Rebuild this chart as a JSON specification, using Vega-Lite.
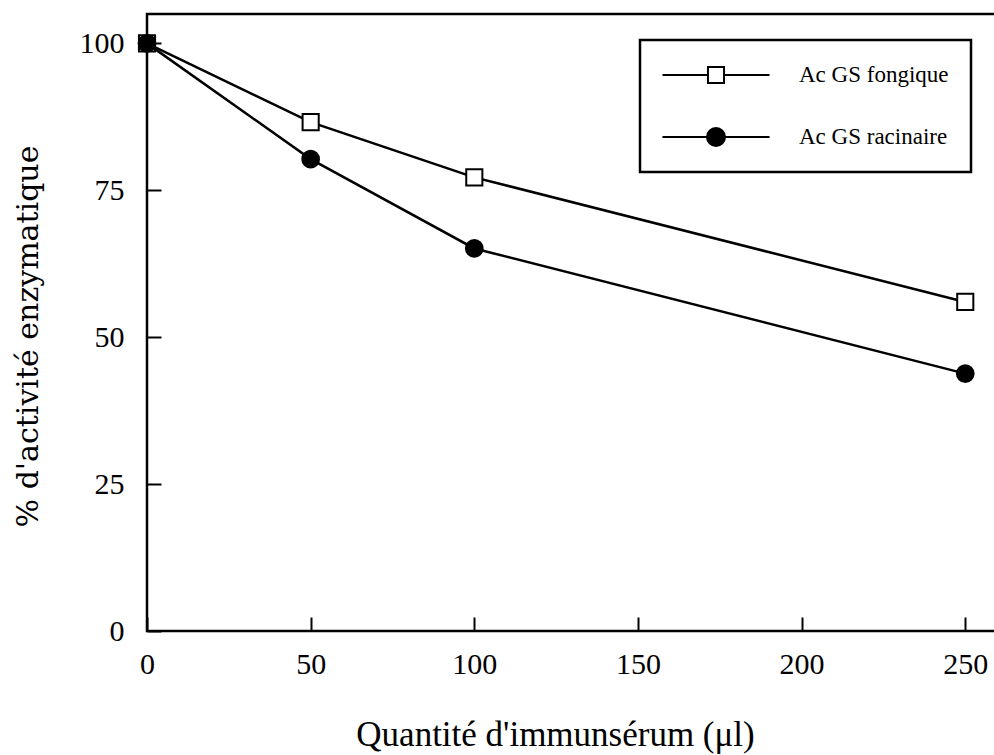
{
  "$schema": "https://vega.github.io/schema/vega-lite/v6.json",
  "autosize": "none",
  "width": 851,
  "height": 617,
  "padding": {"left": 147, "top": 14, "right": 0, "bottom": 124},
  "background": "white",
  "config": {
    "view": {"stroke": "black", "strokeWidth": 2.5},
    "font": "Liberation Serif",
    "axis": {
      "grid": false,
      "domain": false,
      "ticks": true,
      "tickColor": "black",
      "tickWidth": 2,
      "labelColor": "black",
      "labelFont": "Liberation Serif",
      "labelFontSize": 30,
      "labelFlush": false,
      "titleFont": "Liberation Serif",
      "titleFontWeight": "normal",
      "titleColor": "black"
    },
    "legend": {
      "title": null,
      "orient": "none",
      "legendX": 493,
      "legendY": 26,
      "padding": 22,
      "strokeColor": "black",
      "strokeWidth": 2.5,
      "symbolSize": 576,
      "symbolOffset": 41,
      "symbolStrokeWidth": 2,
      "symbolStrokeColor": "black",
      "symbolOpacity": 1,
      "labelFont": "Liberation Serif",
      "labelFontSize": 23,
      "labelColor": "black",
      "labelOffset": 70,
      "rowPadding": 36
    }
  },
  "data": {
    "values": [
      {"serie": "Ac GS fongique", "q": 0, "pct": 100},
      {"serie": "Ac GS fongique", "q": 50, "pct": 86.6},
      {"serie": "Ac GS fongique", "q": 100, "pct": 77.2},
      {"serie": "Ac GS fongique", "q": 250, "pct": 56.0},
      {"serie": "Ac GS racinaire", "q": 0, "pct": 100},
      {"serie": "Ac GS racinaire", "q": 50, "pct": 80.3},
      {"serie": "Ac GS racinaire", "q": 100, "pct": 65.1},
      {"serie": "Ac GS racinaire", "q": 250, "pct": 43.8}
    ]
  },
  "encoding": {
    "x": {
      "field": "q",
      "type": "quantitative",
      "scale": {"domain": [0, 260], "nice": false, "zero": false},
      "axis": {
        "values": [0, 50, 100, 150, 200, 250],
        "tickSize": -14,
        "labelPadding": 32,
        "title": "Quantité d'immunsérum (μl)",
        "titleFontSize": 35,
        "titlePadding": 38,
        "titleX": 408
      }
    },
    "y": {
      "field": "pct",
      "type": "quantitative",
      "scale": {"domain": [0, 105], "nice": false},
      "axis": {
        "values": [0, 25, 50, 75, 100],
        "tickSize": -14,
        "labelPadding": 37,
        "title": "% d'activité enzymatique",
        "titleFont": "DejaVu Serif",
        "titleFontSize": 30,
        "titlePadding": 36,
        "titleY": 322
      }
    }
  },
  "layer": [
    {
      "mark": {"type": "line", "color": "black", "strokeWidth": 2.5},
      "encoding": {"detail": {"field": "serie", "type": "nominal"}}
    },
    {
      "transform": [{"filter": "datum.serie === 'Ac GS fongique'"}],
      "mark": {"type": "point", "shape": "square", "filled": true, "fill": "white", "stroke": "black", "strokeWidth": 2, "opacity": 1, "size": 260},
      "encoding": {}
    },
    {
      "transform": [{"filter": "datum.serie === 'Ac GS racinaire'"}],
      "mark": {"type": "point", "shape": "circle", "filled": true, "fill": "black", "stroke": "black", "strokeWidth": 2, "opacity": 1, "size": 280},
      "encoding": {}
    },
    {
      "mark": {"type": "point", "filled": true, "strokeWidth": 2, "opacity": 0},
      "encoding": {
        "shape": {
          "field": "serie",
          "type": "nominal",
          "scale": {
            "domain": ["Ac GS fongique", "Ac GS racinaire"],
            "range": [
              "M-4.46,0H-0.67M0.67,0H4.46M-0.67,-0.67H0.67V0.67H-0.67Z",
              "M-4.46,0H4.46M-0.75,0A0.75,0.75,0,1,0,0.75,0A0.75,0.75,0,1,0,-0.75,0Z"
            ]
          }
        },
        "fill": {
          "field": "serie",
          "type": "nominal",
          "scale": {"domain": ["Ac GS fongique", "Ac GS racinaire"], "range": ["white", "black"]}
        },
        "stroke": {
          "field": "serie",
          "type": "nominal",
          "scale": {"domain": ["Ac GS fongique", "Ac GS racinaire"], "range": ["black", "black"]}
        }
      }
    }
  ]
}
